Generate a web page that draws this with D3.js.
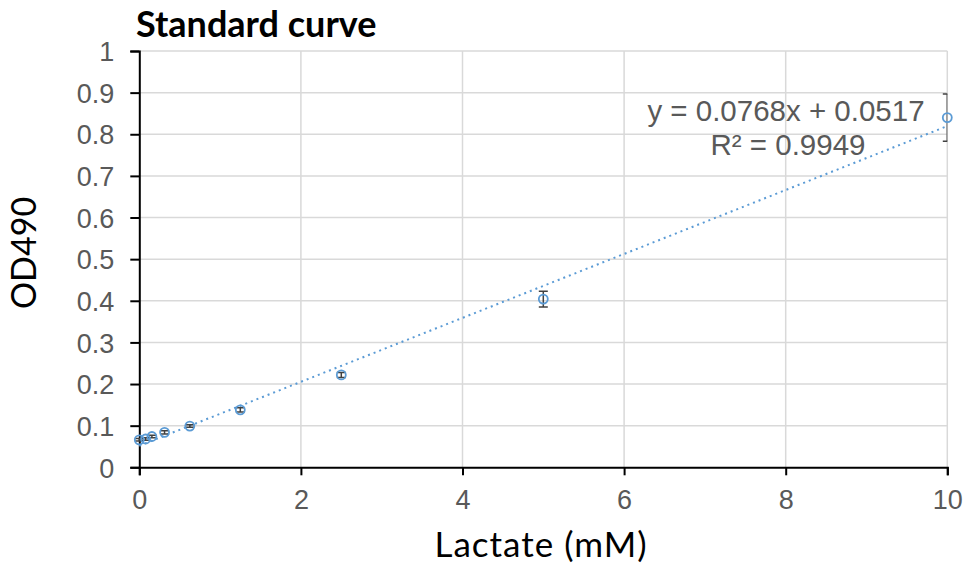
<!DOCTYPE html>
<html>
<head>
<meta charset="utf-8">
<script src="https://cdn.jsdelivr.net/npm/d3@7"></script>
<style>
  body { margin: 0; background: #fff; }
  svg { display: block; }
</style>
</head>
<body>
<div id="chart"></div>
<script>
// standard curve data
var lactate = [0, 0.078, 0.156, 0.3125, 0.625, 1.25, 2.5, 5, 10];
var od490   = [0.066, 0.068, 0.074, 0.084, 0.099, 0.138, 0.222, 0.404, 0.840];
var odErr   = [0.003, 0.003, 0.003, 0.004, 0.003, 0.005, 0.006, 0.019, 0.057];
var xTicks  = [0, 2, 4, 6, 8, 10];
var yTicks  = [0, 0.1, 0.2, 0.3, 0.4, 0.5, 0.6, 0.7, 0.8, 0.9, 1];
// linear trendline as reported by the chart
var slope = 0.0768, intercept = 0.0517, r2 = 0.9949;

var W = 970, H = 569;
var margin = {top: 51, right: 22.7, bottom: 101.7, left: 139.3},
    width = W - margin.left - margin.right,
    height = H - margin.top - margin.bottom;

var svg = d3.select("#chart").append("svg")
    .attr("width", W)
    .attr("height", H);

var g = svg.append("g")
    .attr("transform", "translate(" + margin.left + "," + margin.top + ")");

var x = d3.scaleLinear().domain([0, 10]).range([0, width]);
var y = d3.scaleLinear().domain([0, 1]).range([height, 0]);

g.append("clipPath").attr("id", "plotclip")
  .append("rect")
    .attr("x", -20).attr("y", -20)
    .attr("width", width + 20).attr("height", height + 40);

// gridlines
g.append("g").selectAll("line.hg")
    .data(yTicks.slice(1))
    .enter().append("line")
    .attr("x1", 0).attr("x2", width)
    .attr("y1", function(d) { return y(d); })
    .attr("y2", function(d) { return y(d); })
    .attr("stroke", "#d9d9d9").attr("stroke-width", 1.5);
g.append("g").selectAll("line.vg")
    .data(xTicks.slice(1))
    .enter().append("line")
    .attr("y1", 0).attr("y2", height)
    .attr("x1", function(d) { return x(d); })
    .attr("x2", function(d) { return x(d); })
    .attr("stroke", "#d9d9d9").attr("stroke-width", 1.5);

// axes
var xAxis = g.append("g")
    .attr("transform", "translate(0," + height + ")")
    .call(d3.axisBottom(x).tickValues(xTicks).tickSize(8).tickPadding(15)
        .tickFormat(d3.format("d")));
var yAxis = g.append("g")
    .call(d3.axisLeft(y).tickValues(yTicks).tickSize(9).tickPadding(16)
        .tickFormat(function(d) { return d === 0 || d === 1 ? d : d3.format(".1f")(d); }));

[xAxis, yAxis].forEach(function(a) {
    a.select(".domain").attr("stroke", "#000").attr("stroke-width", 2);
    a.selectAll(".tick line").attr("stroke", "#000").attr("stroke-width", 2);
    a.selectAll(".tick text")
        .attr("fill", "#595959")
        .style("font-family", "'Liberation Sans', Arial, sans-serif")
        .style("font-size", "27px");
});
xAxis.selectAll(".tick text").attr("dy", "0.71em");
yAxis.selectAll(".tick text").attr("dy", "0.36em");

// trendline
g.append("line")
    .attr("x1", x(0)).attr("y1", y(intercept))
    .attr("x2", x(10)).attr("y2", y(intercept + slope * 10))
    .attr("stroke", "#5b9bd5")
    .attr("stroke-width", 2)
    .attr("stroke-dasharray", "2,4");

// error bars
var pts = lactate.map(function(v, i) { return {x: v, y: od490[i], e: odErr[i]}; });
var eb = g.append("g").attr("clip-path", "url(#plotclip)")
    .selectAll("g").data(pts).enter().append("g")
    .attr("stroke", "#404040").attr("stroke-width", 1.5);
eb.append("line")
    .attr("x1", function(d) { return x(d.x); }).attr("x2", function(d) { return x(d.x); })
    .attr("y1", function(d) { return y(d.y - d.e); }).attr("y2", function(d) { return y(d.y + d.e); });
eb.append("line")
    .attr("x1", function(d) { return x(d.x) - 4.5; }).attr("x2", function(d) { return x(d.x) + 4.5; })
    .attr("y1", function(d) { return y(d.y + d.e); }).attr("y2", function(d) { return y(d.y + d.e); });
eb.append("line")
    .attr("x1", function(d) { return x(d.x) - 4.5; }).attr("x2", function(d) { return x(d.x) + 4.5; })
    .attr("y1", function(d) { return y(d.y - d.e); }).attr("y2", function(d) { return y(d.y - d.e); });

// markers
g.append("g").selectAll("circle")
    .data(pts).enter().append("circle")
    .attr("cx", function(d) { return x(d.x); })
    .attr("cy", function(d) { return y(d.y); })
    .attr("r", 4.5)
    .attr("fill", "none")
    .attr("stroke", "#5b9bd5")
    .attr("stroke-width", 1.8);

// equation label
var eq = g.append("text")
    .attr("text-anchor", "middle")
    .attr("fill", "#595959")
    .style("font-family", "'Liberation Sans', Arial, sans-serif")
    .style("font-size", "29.5px");
eq.append("tspan").attr("x", 786 - margin.left).attr("y", 121 - margin.top)
    .text("y = " + slope + "x + " + intercept);
eq.append("tspan").attr("x", 788 - margin.left).attr("y", 155 - margin.top)
    .text("R\u00b2 = " + r2);

// titles
svg.append("text")
    .attr("x", 136).attr("y", 37)
    .attr("fill", "#000")
    .style("font-family", "Lato, 'Open Sans', sans-serif")
    .style("font-weight", "bold")
    .style("font-size", "36px")
    .text("Standard curve");

svg.append("text")
    .attr("x", 541).attr("y", 557)
    .attr("text-anchor", "middle")
    .attr("fill", "#000")
    .style("font-family", "Lato, 'Open Sans', sans-serif")
    .style("font-size", "35px")
    .style("letter-spacing", "1px")
    .text("Lactate (mM)");

svg.append("text")
    .attr("transform", "translate(36,253) rotate(-90)")
    .attr("text-anchor", "middle")
    .attr("fill", "#000")
    .style("font-family", "Lato, 'Open Sans', sans-serif")
    .style("font-size", "34px")
    .text("OD490");
</script>
</body>
</html>
